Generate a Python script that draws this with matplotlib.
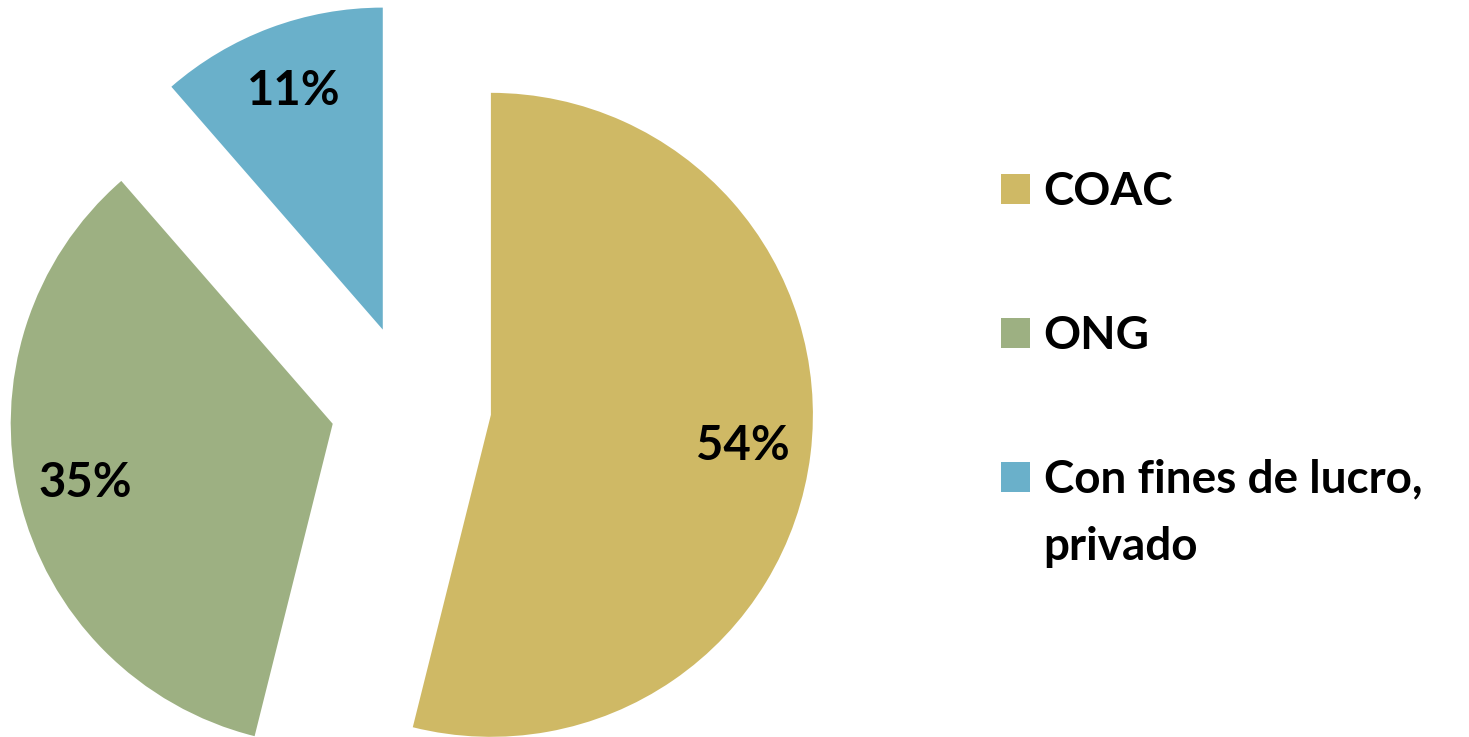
import matplotlib
matplotlib.use("Agg")
import matplotlib.pyplot as plt
from matplotlib.legend_handler import HandlerPatch
from matplotlib.patches import Rectangle

categories = ["COAC", "ONG", "Con fines de lucro,\nprivado"]
shares = [53.9, 34.7, 11.4]
colors = ["#CFB965", "#9DB082", "#6AB0CA"]

plt.rcParams['font.family'] = ['Lato', 'DejaVu Sans']

fig = plt.figure(figsize=(14.69, 7.37), dpi=100)
ax = fig.add_axes([0, 0, 1, 1])

R = 322
wedges, texts, autotexts = ax.pie(
    shares,
    explode=[0.25 * R] * len(shares),
    radius=R,
    center=(411, 332),
    startangle=90,
    counterclock=False,
    colors=colors,
    autopct=lambda p: f"{p:.0f}%",
    pctdistance=0.79,
    textprops=dict(fontsize=34, fontweight='bold', color='black'),
)
ax.set_xlim(0, 1469)
ax.set_ylim(0, 737)
ax.set_aspect('auto')
ax.axis('off')


class SquareHandler(HandlerPatch):
    def __init__(self, shift=0.0, **kw):
        super().__init__(**kw)
        self.shift = shift

    def create_artists(self, legend, orig_handle, xdescent, ydescent,
                       width, height, fontsize, trans):
        p = Rectangle((-xdescent, -ydescent + self.shift), width, height,
                      facecolor=orig_handle.get_facecolor(),
                      edgecolor='none', transform=trans)
        return [p]


hmap = {wedges[0]: SquareHandler(), wedges[1]: SquareHandler(),
        wedges[2]: SquareHandler(shift=26.7)}

leg = ax.legend(
    wedges, categories,
    loc='upper left',
    bbox_to_anchor=(1001 / 1469, 1 - 171 / 737),
    bbox_transform=fig.transFigure,
    frameon=False,
    prop=dict(size=33, weight='bold'),
    handlelength=0.63, handleheight=0.63,
    handletextpad=0.3,
    labelspacing=2.22,
    borderpad=0, borderaxespad=0,
    handler_map=hmap,
)
for t in leg.get_texts():
    t.set_linespacing(1.76)

fig.savefig("out.png", dpi=100)
